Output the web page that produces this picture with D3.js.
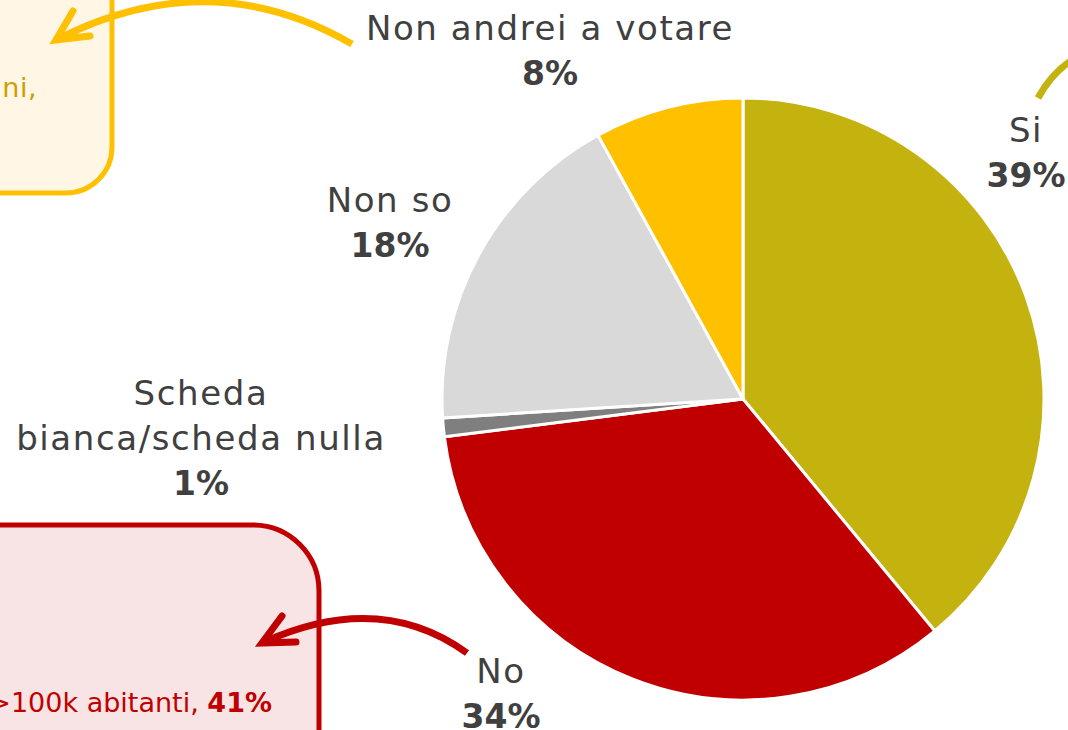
<!DOCTYPE html>
<html>
<head>
<meta charset="utf-8">
<script src="https://cdn.jsdelivr.net/npm/d3@7"></script>
<style>
  html, body { margin: 0; padding: 0; background: #fff; }
  svg { display: block; }
  text { font-family: 'DejaVu Sans', sans-serif; }
</style>
</head>
<body>
<div id="app"></div>
<script>
(function (d3) {

  'use strict'

  // data
  const categories = ['Si', 'No', 'Scheda bianca/scheda nulla', 'Non so', 'Non andrei a votare']
  const values = [39, 34, 1, 18, 8]
  const colors = ['#C4B20F', '#C00000', '#7F7F7F', '#D9D9D9', '#FFC000']
  const labelLines = [['Si'], ['No'], ['Scheda', 'bianca/scheda nulla'], ['Non so'], ['Non andrei a votare']]

  // label anchors (top line baseline), set by eye
  const labelPos = [[1026, 142], [501, 683], [201, 405], [390, 212], [550, 40]]

  const w = 1068
  const h = 730
  const cx = 743
  const cy = 399
  const r = 301

  const svg = d3.select('#app')
    .append('svg')
    .attr('width', w)
    .attr('height', h)

  // callout boxes, cut by the left edge
  svg.append('rect')
    .attr('x', -300).attr('y', -200)
    .attr('width', 412).attr('height', 393)
    .attr('rx', 46).attr('ry', 46)
    .attr('fill', '#FFF6E5')
    .attr('stroke', '#FFC000')
    .attr('stroke-width', 5)

  svg.append('text')
    .attr('x', 37).attr('y', 97)
    .attr('text-anchor', 'end')
    .attr('font-size', 27)
    .attr('letter-spacing', 0.5)
    .attr('fill', '#C9A000')
    .text('ni,')

  svg.append('rect')
    .attr('x', -300).attr('y', 525)
    .attr('width', 619).attr('height', 400)
    .attr('rx', 66).attr('ry', 66)
    .attr('fill', '#F8E4E4')
    .attr('stroke', '#C00000')
    .attr('stroke-width', 5)

  const boxText = svg.append('text')
    .attr('x', 272).attr('y', 712)
    .attr('text-anchor', 'end')
    .attr('font-size', 27)
    .attr('fill', '#C00000')
  boxText.append('tspan').text('>100k abitanti, ')
  boxText.append('tspan').attr('font-weight', 'bold').text('41%')

  // pie
  const pie = d3.pie().sort(null).value(d => d)
  const arc = d3.arc().innerRadius(0).outerRadius(r)

  svg.append('g')
    .attr('transform', 'translate(' + cx + ',' + cy + ')')
    .selectAll('path')
    .data(pie(values))
    .enter()
    .append('path')
    .attr('d', arc)
    .attr('fill', (d, i) => colors[i])
    .attr('stroke', '#fff')
    .attr('stroke-width', 3)
    .attr('stroke-linejoin', 'round')

  // labels
  const lineH = 45
  labelLines.forEach(function (lines, i) {
    const t = svg.append('text')
      .attr('text-anchor', 'middle')
      .attr('fill', '#404040')
      .attr('font-size', 34)
    lines.forEach(function (s, j) {
      t.append('tspan')
        .attr('x', labelPos[i][0])
        .attr('y', labelPos[i][1] + j * lineH)
        .attr('letter-spacing', 1.6)
        .text(s)
    })
    t.append('tspan')
      .attr('x', labelPos[i][0])
      .attr('y', labelPos[i][1] + lines.length * lineH)
      .attr('font-weight', 'bold')
      .attr('font-size', 33)
      .text(values[i] + '%')
  })

  // arrows
  const arrow = function (d, head, color) {
    svg.append('path')
      .attr('d', d)
      .attr('fill', 'none')
      .attr('stroke', color)
      .attr('stroke-width', 7)
    svg.append('path')
      .attr('d', head)
      .attr('fill', 'none')
      .attr('stroke', color)
      .attr('stroke-width', 7)
      .attr('stroke-linecap', 'round')
      .attr('stroke-linejoin', 'miter')
  }

  arrow('M352,44 Q210,-38 58,39', 'M73,11 L56,40 L90,36', '#FFC000')
  arrow('M467,653 Q380,590 264,642', 'M282,616 L262,643 L296,642', '#C00000')
  arrow('M1038,98 Q1052,72 1075,58', '', '#C4B20F')

}(d3))
</script>
</body>
</html>
